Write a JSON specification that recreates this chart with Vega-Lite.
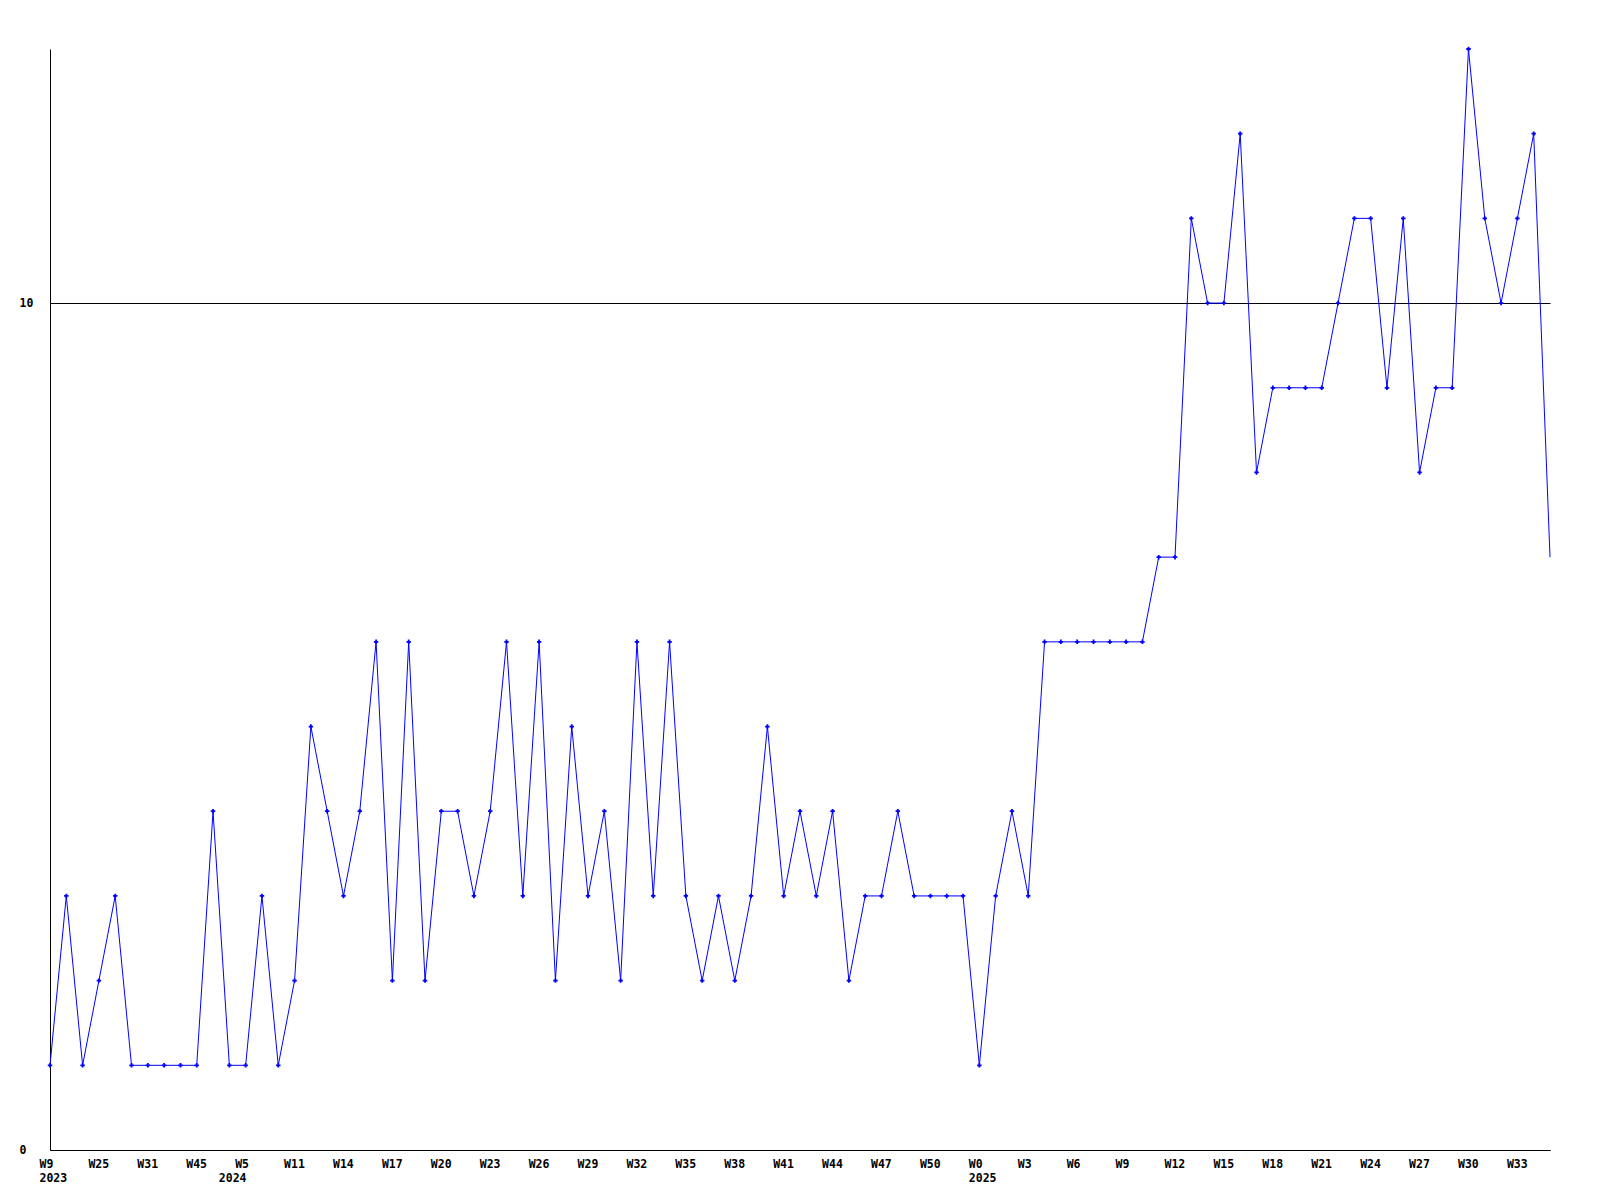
{
  "$schema": "https://vega.github.io/schema/vega-lite/v6.json",
  "autosize": {"type": "none"},
  "width": 1500,
  "height": 1101,
  "padding": {"left": 50, "top": 49, "right": 50, "bottom": 50},
  "background": "white",
  "config": {"view": {"stroke": null}},
  "data": {"values": [
    {"week": "2023-W09", "count": 1},
    {"week": "2023-W14", "count": 3},
    {"week": "2023-W20", "count": 1},
    {"week": "2023-W25", "count": 2},
    {"week": "2023-W27", "count": 3},
    {"week": "2023-W29", "count": 1},
    {"week": "2023-W31", "count": 1},
    {"week": "2023-W35", "count": 1},
    {"week": "2023-W40", "count": 1},
    {"week": "2023-W45", "count": 1},
    {"week": "2023-W49", "count": 4},
    {"week": "2024-W01", "count": 1},
    {"week": "2024-W05", "count": 1},
    {"week": "2024-W07", "count": 3},
    {"week": "2024-W09", "count": 1},
    {"week": "2024-W11", "count": 2},
    {"week": "2024-W12", "count": 5},
    {"week": "2024-W13", "count": 4},
    {"week": "2024-W14", "count": 3},
    {"week": "2024-W15", "count": 4},
    {"week": "2024-W16", "count": 6},
    {"week": "2024-W17", "count": 2},
    {"week": "2024-W18", "count": 6},
    {"week": "2024-W19", "count": 2},
    {"week": "2024-W20", "count": 4},
    {"week": "2024-W21", "count": 4},
    {"week": "2024-W22", "count": 3},
    {"week": "2024-W23", "count": 4},
    {"week": "2024-W24", "count": 6},
    {"week": "2024-W25", "count": 3},
    {"week": "2024-W26", "count": 6},
    {"week": "2024-W27", "count": 2},
    {"week": "2024-W28", "count": 5},
    {"week": "2024-W29", "count": 3},
    {"week": "2024-W30", "count": 4},
    {"week": "2024-W31", "count": 2},
    {"week": "2024-W32", "count": 6},
    {"week": "2024-W33", "count": 3},
    {"week": "2024-W34", "count": 6},
    {"week": "2024-W35", "count": 3},
    {"week": "2024-W36", "count": 2},
    {"week": "2024-W37", "count": 3},
    {"week": "2024-W38", "count": 2},
    {"week": "2024-W39", "count": 3},
    {"week": "2024-W40", "count": 5},
    {"week": "2024-W41", "count": 3},
    {"week": "2024-W42", "count": 4},
    {"week": "2024-W43", "count": 3},
    {"week": "2024-W44", "count": 4},
    {"week": "2024-W45", "count": 2},
    {"week": "2024-W46", "count": 3},
    {"week": "2024-W47", "count": 3},
    {"week": "2024-W48", "count": 4},
    {"week": "2024-W49", "count": 3},
    {"week": "2024-W50", "count": 3},
    {"week": "2024-W51", "count": 3},
    {"week": "2024-W52", "count": 3},
    {"week": "2025-W00", "count": 1},
    {"week": "2025-W01", "count": 3},
    {"week": "2025-W02", "count": 4},
    {"week": "2025-W03", "count": 3},
    {"week": "2025-W04", "count": 6},
    {"week": "2025-W05", "count": 6},
    {"week": "2025-W06", "count": 6},
    {"week": "2025-W07", "count": 6},
    {"week": "2025-W08", "count": 6},
    {"week": "2025-W09", "count": 6},
    {"week": "2025-W10", "count": 6},
    {"week": "2025-W11", "count": 7},
    {"week": "2025-W12", "count": 7},
    {"week": "2025-W13", "count": 11},
    {"week": "2025-W14", "count": 10},
    {"week": "2025-W15", "count": 10},
    {"week": "2025-W16", "count": 12},
    {"week": "2025-W17", "count": 8},
    {"week": "2025-W18", "count": 9},
    {"week": "2025-W19", "count": 9},
    {"week": "2025-W20", "count": 9},
    {"week": "2025-W21", "count": 9},
    {"week": "2025-W22", "count": 10},
    {"week": "2025-W23", "count": 11},
    {"week": "2025-W24", "count": 11},
    {"week": "2025-W25", "count": 9},
    {"week": "2025-W26", "count": 11},
    {"week": "2025-W27", "count": 8},
    {"week": "2025-W28", "count": 9},
    {"week": "2025-W29", "count": 9},
    {"week": "2025-W30", "count": 13},
    {"week": "2025-W31", "count": 11},
    {"week": "2025-W32", "count": 10},
    {"week": "2025-W33", "count": 11},
    {"week": "2025-W34", "count": 12},
    {"week": "2025-W35", "count": 7}
  ]},
  "encoding": {
    "x": {
      "field": "week",
      "type": "ordinal",
      "sort": null,
      "scale": {"type": "point", "padding": 0},
      "axis": {
        "title": null,
        "values": ["2023-W09", "2023-W25", "2023-W31", "2023-W45", "2024-W01", "2024-W05", "2024-W11", "2024-W14", "2024-W17", "2024-W20", "2024-W23", "2024-W26", "2024-W29", "2024-W32", "2024-W35", "2024-W38", "2024-W41", "2024-W44", "2024-W47", "2024-W50", "2025-W00", "2025-W03", "2025-W06", "2025-W09", "2025-W12", "2025-W15", "2025-W18", "2025-W21", "2025-W24", "2025-W27", "2025-W30", "2025-W33"],
        "labelExpr": "datum.value == '2024-W01' ? ['', '2024'] : (datum.value == '2023-W09' || datum.value == '2025-W00') ? ['W' + toNumber(substring(datum.value, 6)), substring(datum.value, 0, 4)] : 'W' + toNumber(substring(datum.value, 6))",
        "labelAngle": 0,
        "labelAlign": "left",
        "labelBaseline": "top",
        "labelOffset": -11,
        "labelPadding": 8,
        "labelLineHeight": 14,
        "labelOverlap": false,
        "labelFont": "DejaVu Sans Mono",
        "labelFontSize": 11.5,
        "labelFontWeight": "bold",
        "labelColor": "black",
        "ticks": false,
        "tickSize": 0,
        "grid": false,
        "domainColor": "black",
        "domainWidth": 1
      }
    },
    "y": {
      "field": "count",
      "type": "quantitative",
      "scale": {"domain": [0, 13], "nice": false, "zero": true},
      "axis": {
        "title": null,
        "values": [0, 10],
        "labelAlign": "left",
        "labelBaseline": "middle",
        "labelPadding": 31,
        "labelFont": "DejaVu Sans Mono",
        "labelFontSize": 11.5,
        "labelFontWeight": "bold",
        "labelColor": "black",
        "ticks": false,
        "tickSize": 0,
        "grid": true,
        "gridColor": "black",
        "gridOpacity": 1,
        "gridWidth": 1,
        "domainColor": "black",
        "domainWidth": 1
      }
    }
  },
  "layer": [
    {"mark": {"type": "line", "color": "#0000ff", "strokeWidth": 1, "clip": false}},
    {
      "transform": [{"filter": "datum.week != '2025-W35'"}],
      "mark": {"type": "point", "shape": "cross", "filled": true, "color": "#0000ff", "size": 20, "opacity": 1}
    }
  ]
}
